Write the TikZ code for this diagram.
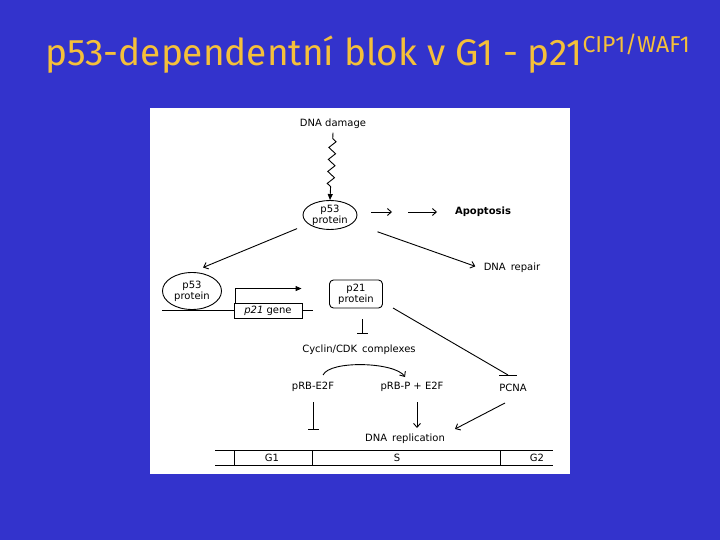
\documentclass[tikz,border=0pt]{standalone}
\usepackage{fontspec}
\setmainfont{DejaVu Sans}
\newfontfamily\titlefont{Fira Sans}
\usetikzlibrary{arrows.meta, shapes.geometric, decorations.pathmorphing}
\definecolor{slideblue}{HTML}{3333CC}
\definecolor{titlegold}{HTML}{F5C03A}

\begin{document}
\begin{tikzpicture}[x=1pt,y=-1pt,>={Straight Barb[length=4pt,width=7pt]},line width=0.9pt,
  font=\fontsize{10}{11}\selectfont,
  prot/.style={ellipse,draw,inner sep=0pt,align=center},
  inh/.style={-{Bar[width=11pt]}}]
  % top=108, bottom=474, left=150, right=570
  \def\cyT{450}
  \def\cyB{465}

  % slide
  \fill[slideblue] (0,0) rectangle (720,540);
  \fill[white] (150,108) rectangle (570,474);
  \node[anchor=base west,text=titlegold,inner sep=0pt,font=\titlefont\fontsize{37}{40}\selectfont]
    (title) at (45,66) {p53-dependentní blok v G1 - p21\raisebox{13pt}{\fontsize{23}{24}\selectfont CIP1/WAF1}};

  % nodes
  \node (dmg) at (333,124) {DNA damage};
  \node[prot,minimum width=54pt,minimum height=26pt] (p53) at (330,215) {p53\\protein};
  \node[font=\fontsize{10}{11}\selectfont\bfseries] (apo) at (483,212) {Apoptosis};
  \node (rep) at (512,268) {DNA\enspace repair};
  \node[prot,minimum width=59pt,minimum height=37pt] (p53b) at (192,291) {p53\\protein};
  \node[draw,minimum width=68pt,minimum height=15pt,inner sep=0pt] (gene) at (268,310.5) {\textit{p21} gene};
  \node[draw,rounded corners=4pt,minimum width=53pt,minimum height=28pt,align=center,inner sep=0pt]
    (p21) at (356,294) {p21\\protein};
  \node (cdk) at (359,350) {Cyclin/CDK\enspace complexes};
  \node (rb) at (313,387) {pRB-E2F};
  \node (rbp) at (412,387) {pRB-P + E2F};
  \node (pcna) at (513,388) {PCNA};
  \node (repl) at (405,439) {DNA\enspace replication};

  % free ends
  \coordinate (a1) at (371,212);
  \coordinate (a2) at (392,212);
  \coordinate (a3) at (408,212);
  \coordinate (a4) at (437,212);
  \coordinate (dnaL) at (162,310.5);
  \coordinate (dnaR) at (313,310.5);
  \coordinate (p21i) at (362,319);
  \coordinate (p21s) at (393,308);
  \coordinate (pcnab) at (508,375);
  \coordinate (rbn) at (323,375);
  \coordinate (rbpn) at (405,377);
  \coordinate (rbs) at (313,402);
  \coordinate (g1blk) at (313,430);
  \coordinate (rbps) at (417,402);
  \coordinate (rbpe) at (417,428);
  \coordinate (pcnas) at (505,403);
  \coordinate (reple) at (455,429);

  % DNA damage -> p53
  \draw[-{Triangle[length=6pt,width=5pt]},decorate,
    decoration={zigzag,segment length=12pt,amplitude=3.5pt,pre length=6pt,post length=12pt}]
    (dmg.south) -- (p53.north);
  \draw[->] (a1) -- (a2);
  \draw[->] (a3) -- (a4);
  \draw[->,shorten >=12pt,shorten <=12pt] (p53) -- (p53b.north);
  \draw[->,shorten >=5pt,shorten <=26pt] (p53) -- (rep.west);

  % gene
  \draw (dnaL) -- (gene.west);
  \draw (gene.east) -- (dnaR);
  \draw[-{Triangle[length=6pt,width=5pt]}] ([xshift=2pt]gene.north west) |- ++(66,-14);

  % inhibition
  \draw[inh,shorten >=7pt] (p21i) -- (cdk.north -| p21i);
  \draw (p21s) -- (pcnab);
  \draw ([xshift=-9pt]pcnab) -- ([xshift=9pt]pcnab);
  \draw[->] (rbn) .. controls (330,360) and (395,362) .. (rbpn);
  \draw[inh] (rbs) -- (g1blk);
  \draw[->] (rbps) -- (rbpe);
  \draw[->] (pcnas) -- (reple);

  % cell cycle
  \draw (215,\cyT) -- (553,\cyT);
  \draw (215,\cyB) -- (553,\cyB);
  \foreach \xd in {234,312,500}
    \draw (\xd,\cyT) -- (\xd,\cyB);
  \node (g1) at (272,457.5) {G1};
  \node (s) at (397,457.5) {S};
  \node (g2) at (537,457.5) {G2};
\end{tikzpicture}
\end{document}
